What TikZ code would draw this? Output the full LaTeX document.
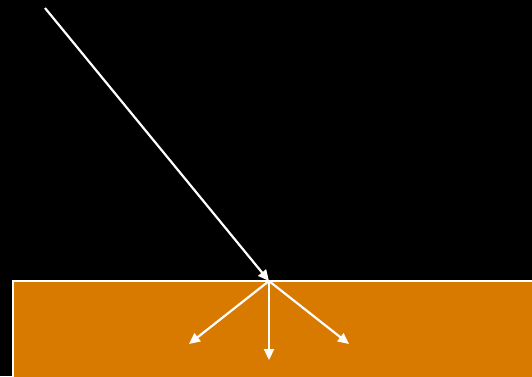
\documentclass[tikz,border=0pt]{standalone}
\usetikzlibrary{arrows.meta}
\definecolor{slab}{HTML}{D97A00}
\tikzset{ray/.style={draw=white,line width=2.2pt,-{Triangle[length=11pt,width=10pt]}}}
\begin{document}
\begin{tikzpicture}[x=1pt,y=-1pt]
\fill[black] (0,0) rectangle (532,376);
\useasboundingbox (0,0) rectangle (532,376);
\fill[slab] (13,281) rectangle (534,378);
\draw[white,line width=2.2pt] (13,378) -- (13,281) -- (534,281);
\coordinate (src) at (45,8);
\coordinate (hit) at (269,281);
\coordinate (l) at (189,344);
\coordinate (d) at (269,360);
\coordinate (r) at (349,344);
\draw[ray] (src) -- (hit);
\draw[ray] (hit) -- (l);
\draw[ray] (hit) -- (d);
\draw[ray] (hit) -- (r);
\end{tikzpicture}
\end{document}
